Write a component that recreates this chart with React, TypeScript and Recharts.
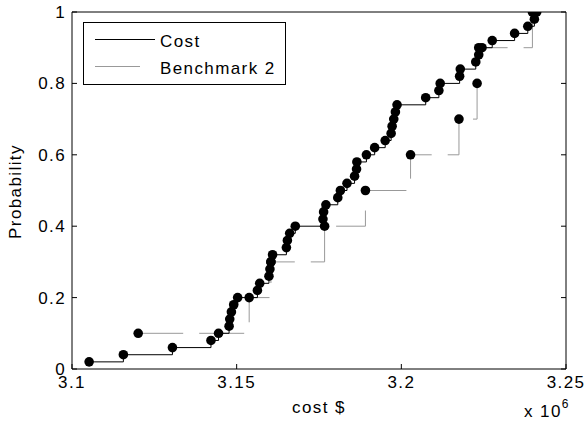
import React from 'react';
import { ComposedChart, Line, Scatter, XAxis, YAxis, Legend, Label } from 'recharts';

// cost values in millions of dollars (axis is "x 10^6")
const costValues = [
  3.1052, 3.1156, 3.1305, 3.1422, 3.1445, 3.1477, 3.1479, 3.1484, 3.1491, 3.1503,
  3.1563, 3.157, 3.1598, 3.1601, 3.1604, 3.1609, 3.1651, 3.1654, 3.1661, 3.1678,
  3.1762, 3.1764, 3.1771, 3.1807, 3.1815, 3.1835, 3.1858, 3.1864, 3.1865, 3.1894,
  3.1919, 3.1951, 3.1969, 3.1972, 3.1977, 3.1982, 3.1987, 3.2074, 3.2114, 3.2118,
  3.2177, 3.2179, 3.2226, 3.2235, 3.2245, 3.2276, 3.2344, 3.2384, 3.2404, 3.2411,
];
const costProb = [
  0.02, 0.04, 0.06, 0.08, 0.1, 0.12, 0.14, 0.16, 0.18, 0.2,
  0.22, 0.24, 0.26, 0.28, 0.3, 0.32, 0.34, 0.36, 0.38, 0.4,
  0.42, 0.44, 0.46, 0.48, 0.5, 0.52, 0.54, 0.56, 0.58, 0.6,
  0.62, 0.64, 0.66, 0.68, 0.7, 0.72, 0.74, 0.76, 0.78, 0.8,
  0.82, 0.84, 0.86, 0.88, 0.9, 0.92, 0.94, 0.96, 0.98, 1,
];

const benchValues = [3.1201, 3.1538, 3.1604, 3.1767, 3.1891, 3.2028, 3.2175, 3.223, 3.2235, 3.2398];
const benchProb = [0.1, 0.2, 0.3, 0.4, 0.5, 0.6, 0.7, 0.8, 0.9, 1];

const xTicks = [3.1, 3.15, 3.2, 3.25];
const yTicks = [0, 0.2, 0.4, 0.6, 0.8, 1];

const FONT = '"Liberation Sans", Arial, sans-serif';
const BENCH_GRAY = '#999999';
const DASH = '45 16';

const costData = costValues.map((x, i) => ({ x, p: costProb[i] }));
const benchData = benchValues.map((x, i) => ({ x, p: benchProb[i] }));

const tickStyle = { fontSize: 17, fill: '#000', fontFamily: FONT, letterSpacing: 1.4 };

// box ticks on top/right: keep the tick line, draw no label
const NoLabel = () => <g />;

const BlackDot = (props: any) => {
  if (props.cx == null || props.cy == null) return <g />;
  return <circle cx={props.cx} cy={props.cy} r={4.8} fill="#000" />;
};

const LegendBox = () => (
  <div
    style={{
      width: 203,
      height: 63,
      boxSizing: 'border-box',
      border: '1px solid #000',
      background: '#fff',
    }}
  >
    <svg width={201} height={61} style={{ display: 'block' }}>
      <line x1={11} x2={71} y1={16.5} y2={16.5} stroke="#000" strokeWidth={1} />
      <text x={76} y={23.5} fontSize={17} fontFamily={FONT} letterSpacing={1.4} fill="#000">
        Cost
      </text>
      <line x1={11} x2={71} y1={43.5} y2={43.5} stroke={BENCH_GRAY} strokeWidth={1} strokeDasharray={DASH} />
      <text x={76} y={51} fontSize={17} fontFamily={FONT} letterSpacing={1.4} fill="#000">
        Benchmark 2
      </text>
    </svg>
  </div>
);

const XTitle = (props: any) => {
  const vb = props.viewBox || { x: 72, y: 369, width: 494, height: 58 };
  return (
    <g>
      <text
        x={vb.x + vb.width / 2}
        y={vb.y + 44}
        textAnchor="middle"
        fontSize={17}
        fontFamily={FONT}
        letterSpacing={1.4}
        fill="#000"
      >
        cost $
      </text>
      <text x={vb.x + vb.width - 42} y={vb.y + 48} fontSize={17} fontFamily={FONT} letterSpacing={1.4} fill="#000">
        x 10
        <tspan dy={-9} fontSize={12}>
          6
        </tspan>
      </text>
    </g>
  );
};

const YTitle = (props: any) => {
  const vb = props.viewBox || { x: 0, y: 12, width: 72, height: 357 };
  const cx = vb.x + 21;
  const cy = vb.y + vb.height / 2 + 1;
  return (
    <text
      x={cx}
      y={cy}
      transform={`rotate(-90, ${cx}, ${cy})`}
      textAnchor="middle"
      fontSize={17}
      fontFamily={FONT}
      letterSpacing={1.4}
      fill="#000"
    >
      Probability
    </text>
  );
};

export default function App() {
  return (
    <div style={{ position: 'absolute', left: 0, top: 0, width: 588, height: 427, background: '#fff' }}>
      <ComposedChart width={588} height={427} margin={{ top: 11, right: 21, bottom: 0, left: 0 }}>
        <XAxis
          dataKey="x"
          type="number"
          domain={[3.1, 3.25]}
          ticks={xTicks}
          height={58}
          tickSize={-5}
          tickMargin={12}
          tick={tickStyle}
          tickFormatter={(v: number) => String(v)}
          axisLine={{ stroke: '#000' }}
          tickLine={{ stroke: '#000' }}
          allowDataOverflow
        >
          <Label content={<XTitle />} />
        </XAxis>
        <XAxis
          xAxisId="top"
          orientation="top"
          type="number"
          domain={[3.1, 3.25]}
          ticks={xTicks}
          height={1}
          tickSize={-5}
          tick={NoLabel}
          axisLine={{ stroke: '#000' }}
          tickLine={{ stroke: '#000' }}
          allowDataOverflow
        />
        <YAxis
          type="number"
          domain={[0, 1]}
          ticks={yTicks}
          width={72}
          tickSize={-5}
          tickMargin={11}
          tick={tickStyle}
          tickFormatter={(v: number) => String(v)}
          axisLine={{ stroke: '#000' }}
          tickLine={{ stroke: '#000' }}
          allowDataOverflow
        >
          <Label content={<YTitle />} />
        </YAxis>
        <YAxis
          yAxisId="right"
          orientation="right"
          type="number"
          domain={[0, 1]}
          ticks={yTicks}
          width={1}
          tickSize={-5}
          tick={NoLabel}
          axisLine={{ stroke: '#000' }}
          tickLine={{ stroke: '#000' }}
          allowDataOverflow
        />
        <Legend
          layout="horizontal"
          verticalAlign="middle"
          align="center"
          wrapperStyle={{ left: 83, top: 22, width: 203, height: 63 }}
          content={() => <LegendBox />}
        />
        <Line
          data={benchData}
          dataKey="p"
          type="stepAfter"
          stroke={BENCH_GRAY}
          strokeWidth={1}
          strokeDasharray={DASH}
          dot={false}
          activeDot={false}
          isAnimationActive={false}
          legendType="none"
        />
        <Line
          data={costData}
          dataKey="p"
          type="stepAfter"
          stroke="#000"
          strokeWidth={1}
          dot={false}
          activeDot={false}
          isAnimationActive={false}
          legendType="none"
        />
        <Scatter data={benchData} dataKey="p" shape={<BlackDot />} isAnimationActive={false} legendType="none" />
        <Scatter data={costData} dataKey="p" shape={<BlackDot />} isAnimationActive={false} legendType="none" />
      </ComposedChart>
    </div>
  );
}
